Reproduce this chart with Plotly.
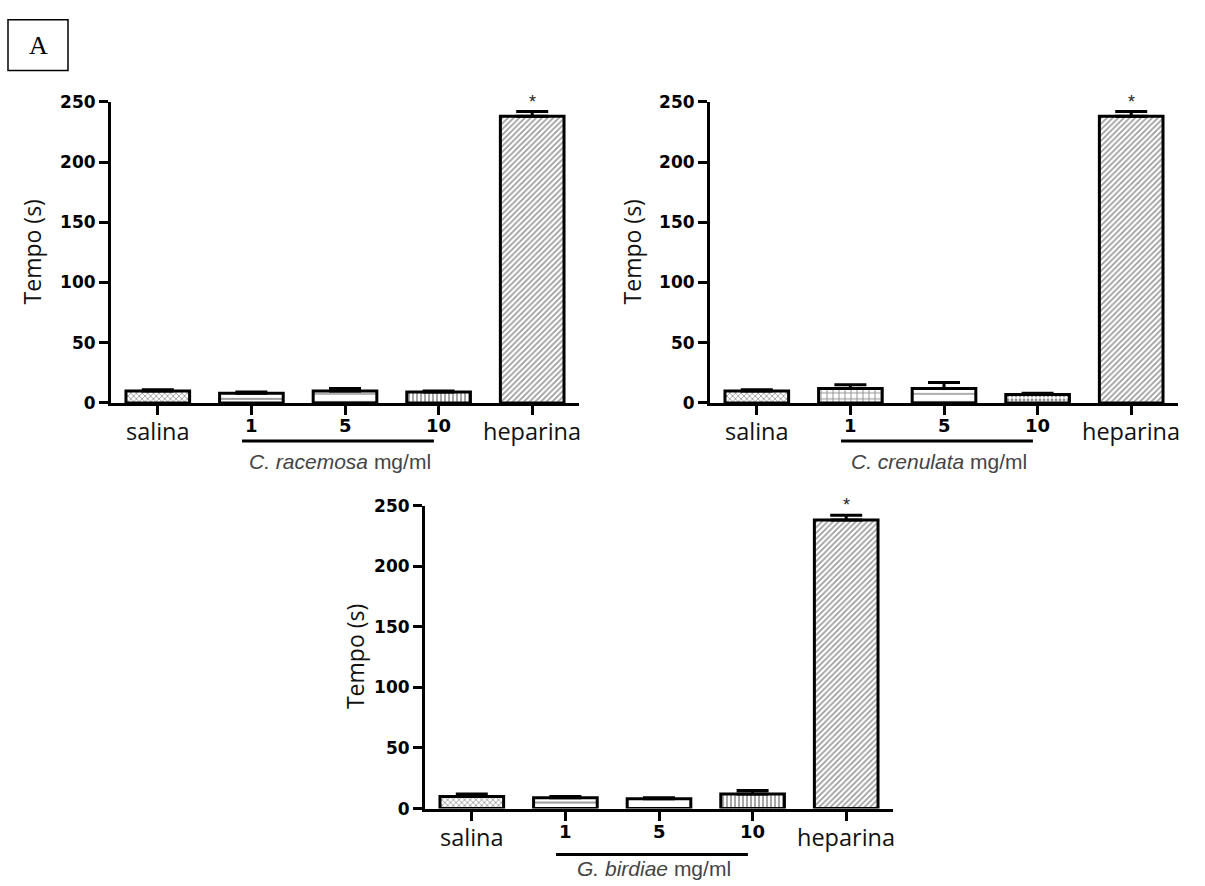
import plotly.graph_objects as go

W, H = 1205, 886

# ---------------- data ----------------
categories = ["salina", "1", "5", "10", "heparina"]
racemosa_mean = [10, 8, 10, 9, 238]
racemosa_sem = [1, 1, 2, 1, 4]
crenulata_mean = [10, 12, 12, 7, 238]
crenulata_sem = [1, 3, 5, 1, 4]
birdiae_mean = [10, 9, 8, 12, 238]
birdiae_sem = [2, 1, 1, 3, 4]
species_labels = ["C. racemosa", "C. crenulata", "G. birdiae"]
y_ticks = [0, 50, 100, 150, 200, 250]
# --------------------------------------

panels = [
    dict(mean=racemosa_mean, sem=racemosa_sem, sp=species_labels[0],
         xpx=(111, 579), ypx=(94, 402), patterns=["x", "-", "-", "|", "/"], ylab_x=32,
         under=39, spoff=60),
    dict(mean=crenulata_mean, sem=crenulata_sem, sp=species_labels[1],
         xpx=(710, 1178), ypx=(94, 402), patterns=["x", "+", "-", ".", "/"], ylab_x=632,
         under=39, spoff=60),
    dict(mean=birdiae_mean, sem=birdiae_sem, sp=species_labels[2],
         xpx=(425, 893), ypx=(507, 817), patterns=["x", "-", "", "|", "/"], ylab_x=355,
         under=47, spoff=61),
]


def fx(px):
    return px / W


def fy(px):
    return 1 - px / H


fig = go.Figure()
annotations = []
shapes = []
xpos = list(range(len(categories)))

for i, p in enumerate(panels):
    n = "" if i == 0 else str(i + 1)
    xa, ya = "x" + n, "y" + n
    fig.add_trace(go.Bar(
        x=xpos, y=p["mean"], width=0.68,
        xaxis=xa, yaxis=ya,
        marker=dict(color="white",
                    line=dict(color="black", width=3),
                    pattern=dict(shape=p["patterns"],
                                 fgcolor=["#222", "#222", "#333", "#222", "#333"],
                                 bgcolor="white", size=[4, 6, 8, 4, 4],
                                 solidity=[0.35, 0.3, 0.2, 0.4, 0.4])),
        error_y=dict(type="data", symmetric=False, array=p["sem"],
                     arrayminus=[0] * len(p["sem"]), thickness=3, width=16, color="black"),
        showlegend=False, hoverinfo="skip",
    ))
    dom_x = [fx(p["xpx"][0]), fx(p["xpx"][1])]
    dom_y = [fy(p["ypx"][1]), fy(p["ypx"][0])]
    fig.layout["xaxis" + n] = dict(
        domain=dom_x, anchor=ya, range=[-0.5, 4.5], tickvals=xpos,
        ticktext=[""] * 5, ticks="outside", ticklen=9, tickwidth=3, tickcolor="black",
        showline=True, linewidth=3, linecolor="black", showgrid=False, zeroline=False,
        fixedrange=True,
    )
    fig.layout["yaxis" + n] = dict(
        domain=dom_y, anchor=xa, range=[0, 250], tickvals=y_ticks,
        ticks="outside", ticklen=9, tickwidth=3, tickcolor="black",
        tickfont=dict(family="DejaVu Sans", size=17, color="black", weight="bold"),
        showline=True, linewidth=3, linecolor="black", showgrid=False, zeroline=False,
        fixedrange=True,
    )
    ybase = p["ypx"][1]
    for j, c in enumerate(categories):
        if c in ("salina", "heparina"):
            annotations.append(dict(
                x=j, y=fy(ybase + 29), xref=xa, yref="paper", text=c, showarrow=False,
                font=dict(family="Open Sans", size=23.5, color="#111"),
                xanchor="center", yanchor="middle"))
        else:
            annotations.append(dict(
                x=j, y=fy(ybase + 23), xref=xa, yref="paper", text="<b>" + c + "</b>",
                showarrow=False, font=dict(family="DejaVu Sans", size=18, color="black"),
                xanchor="center", yanchor="middle"))
    shapes.append(dict(type="line", xref=xa, yref="paper", x0=0.9, x1=2.95,
                       y0=fy(ybase + p["under"]), y1=fy(ybase + p["under"]),
                       line=dict(color="black", width=3)))
    annotations.append(dict(
        x=1.95, y=fy(ybase + p["spoff"]), xref=xa, yref="paper",
        text="<i>" + p["sp"] + "</i> mg/ml", showarrow=False,
        font=dict(family="Liberation Sans", size=21, color="#444"),
        xanchor="center", yanchor="middle"))
    annotations.append(dict(
        x=4, y=p["mean"][4] + p["sem"][4], xref=xa, yref=ya, text="*", showarrow=False,
        font=dict(family="Liberation Sans", size=18, color="#222"),
        xanchor="center", yanchor="bottom", yshift=-2))
    annotations.append(dict(
        x=fx(p["ylab_x"]), y=(dom_y[0] + dom_y[1]) / 2, xref="paper", yref="paper",
        text="Tempo (s)", textangle=-90, showarrow=False,
        font=dict(family="Open Sans", size=23, color="#111"),
        xanchor="center", yanchor="middle"))

shapes.append(dict(type="rect", xref="paper", yref="paper",
                   x0=fx(8), x1=fx(68), y0=fy(62), y1=fy(10),
                   line=dict(color="black", width=1.5)))
annotations.append(dict(x=fx(38), y=fy(36), xref="paper", yref="paper", text="A",
                        showarrow=False, font=dict(family="Liberation Serif", size=26, color="black"),
                        xanchor="center", yanchor="middle"))

fig.update_layout(
    width=W, height=H, margin=dict(l=0, r=0, t=0, b=0),
    paper_bgcolor="white", plot_bgcolor="white",
    annotations=annotations, shapes=shapes, showlegend=False, bargap=0.3,
)

fig.write_html("out.html")
